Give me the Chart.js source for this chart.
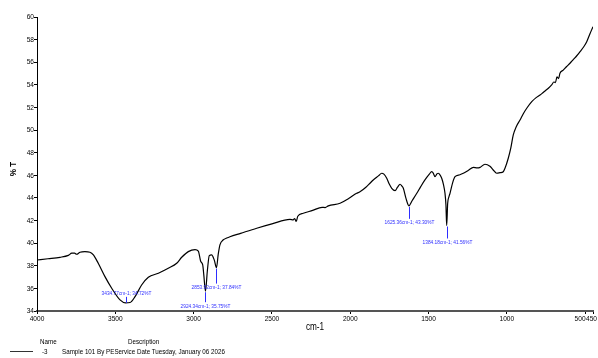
<!DOCTYPE html>
<html>
<head>
<meta charset="utf-8">
<script src="https://cdn.jsdelivr.net/npm/chart.js@4.4.1/dist/chart.umd.min.js"></script>
<style>
  html, body { margin: 0; padding: 0; background: #fff; }
  #wrap { position: relative; width: 598px; height: 358px; overflow: hidden; }
  #c { position: absolute; left: 0; top: 0; }
  .t { position: absolute; font-family: "Liberation Sans", Arial, sans-serif; font-size: 8px; color: #000;
       white-space: nowrap; line-height: 1; transform: scaleX(0.78); transform-origin: 0 0; }
  .swatch { position: absolute; left: 10px; top: 351px; width: 23px; height: 0; border-top: 1.5px solid #333; }
</style>
</head>
<body>
<div id="wrap">
  <canvas id="c" width="598" height="358"></canvas>
  <div class="t" style="left:40px; top:338px;">Name</div>
  <div class="t" style="left:128px; top:338px;">Description</div>
  <div class="swatch"></div>
  <div class="t" style="left:42px; top:348px;">-3</div>
  <div class="t" style="left:62px; top:348px;">Sample 101 By PEService Date Tuesday, January 06 2026</div>
</div>
<script>
// FTIR spectrum: wavenumber (cm-1) vs transmittance (%T)
const wavenumbers = [
  4000, 3930, 3853, 3800, 3778, 3760, 3747, 3725, 3694, 3662, 3640, 3609, 3566, 3523, 3470,
  3434.77, 3406, 3374, 3332, 3289, 3225, 3162, 3108, 3076, 3034, 2991, 2970, 2955, 2942, 2935,
  2924.34, 2912, 2900, 2885, 2868, 2853.92, 2843, 2832, 2810, 2789, 2768, 2700, 2597, 2500,
  2385, 2364, 2355, 2345, 2335, 2300, 2240, 2180, 2160, 2140, 2065, 2010, 1959, 1938, 1900,
  1874, 1853, 1820, 1799, 1785, 1767, 1750, 1735, 1714, 1698, 1682, 1670, 1661, 1645, 1625.36,
  1605, 1575, 1550, 1523, 1495, 1480, 1470, 1459, 1445, 1438, 1425, 1416, 1405, 1395, 1389,
  1384.18, 1378, 1370, 1363, 1345, 1331, 1300, 1278, 1245, 1214, 1190, 1171, 1140, 1108, 1087,
  1065, 1044, 1023, 1012, 991, 975, 959, 940, 916, 895, 873, 841, 815, 788, 770, 756, 735, 714,
  700, 690, 680, 670, 661, 640, 620, 597, 575, 555, 533, 510, 490, 470, 450
];
const transmittance = [
  38.51, 38.62, 38.75, 38.92, 39.11, 39.12, 39.02, 39.20, 39.25, 39.20, 38.96, 38.22, 37.04, 36.01, 34.98,
  34.72, 34.75, 35.27, 36.30, 36.98, 37.34, 37.78, 38.22, 38.75, 39.25, 39.42, 39.30, 38.40, 38.07, 37.20,
  35.75, 37.60, 38.90, 38.96, 38.50, 37.84, 39.00, 39.85, 40.30, 40.45, 40.57, 40.87, 41.32, 41.70,
  42.11, 42.06, 42.18, 41.92, 42.38, 42.64, 42.90, 43.17, 43.15, 43.30, 43.53, 43.95, 44.41, 44.55, 44.95,
  45.30, 45.59, 45.95, 46.18, 46.10, 45.74, 45.20, 44.85, 44.64, 44.95, 45.21, 45.05, 44.85, 44.00, 43.30,
  43.75, 44.41, 45.00, 45.59, 46.10, 46.32, 46.20, 45.88, 46.15, 46.18, 46.00, 45.74, 45.20, 44.41, 43.40,
  41.56, 43.50, 44.10, 44.41, 45.40, 45.88, 46.05, 46.18, 46.45, 46.71, 46.65, 46.70, 46.98, 46.80, 46.47,
  46.18, 46.23, 46.32, 46.62, 47.51, 48.40, 49.57, 50.30, 50.89, 51.45, 51.93, 52.51, 52.85, 53.10, 53.30, 53.46, 53.70, 53.99,
  54.25, 54.20, 54.70, 54.55, 55.02, 55.30, 55.60, 55.91, 56.25, 56.55, 56.93, 57.35, 57.82, 58.50, 59.14
];

// Labelled absorption bands
const peakWavenumbers = [3434.77, 2924.34, 2853.92, 1625.36, 1384.18];
const peakTransmittance = [34.72, 35.75, 37.84, 43.30, 41.56];

// Axis ticks
const xTickValues = [4000, 3500, 3000, 2500, 2000, 1500, 1000, 500, 450];
const yTickValues = [34, 36, 38, 40, 42, 44, 46, 48, 50, 52, 54, 56, 58, 60];

const FONT = '"Liberation Sans", Arial, sans-serif';
const PEAK_BLUE = 'rgb(45, 45, 255)';

// marker placement for each band label: direction and marker length (px)
const peakLayout = [
  { dir: 'up', len: 6 },
  { dir: 'down', len: 10 },
  { dir: 'down', len: 15 },
  { dir: 'down', len: 12 },
  { dir: 'down', len: 12 }
];

// horizontally condensed text
function narrowText(ctx, text, x, y, align, sx) {
  ctx.save();
  ctx.translate(x, y);
  ctx.scale(sx, 1);
  ctx.textAlign = align;
  ctx.fillText(text, 0, 0);
  ctx.restore();
}

const peakLabels = {
  id: 'peakLabels',
  afterDatasetsDraw(chart) {
    const { ctx, scales } = chart;
    ctx.save();
    ctx.strokeStyle = PEAK_BLUE;
    ctx.fillStyle = PEAK_BLUE;
    ctx.lineWidth = 1;
    ctx.font = '6px ' + FONT;
    peakWavenumbers.forEach((w, i) => {
      const t = peakTransmittance[i];
      const px = Math.round(scales.x.getPixelForValue(w)) + 0.5;
      const py = scales.y.getPixelForValue(t);
      const lay = peakLayout[i];
      const text = w.toFixed(2) + 'cm-1; ' + t.toFixed(2) + '%T';
      ctx.beginPath();
      if (lay.dir === 'down') {
        ctx.moveTo(px, py + 1);
        ctx.lineTo(px, py + 1 + lay.len);
        ctx.stroke();
        ctx.textBaseline = 'top';
        narrowText(ctx, text, px, py + 2 + lay.len, 'center', 0.8);
      } else {
        ctx.moveTo(px, py);
        ctx.lineTo(px, py - lay.len);
        ctx.stroke();
        ctx.textBaseline = 'bottom';
        narrowText(ctx, text, px, py - lay.len - 1, 'center', 0.8);
      }
    });
    ctx.restore();
  }
};

// tick labels and axis titles in a condensed face
const axisText = {
  id: 'axisText',
  afterDraw(chart) {
    const { ctx, scales, chartArea } = chart;
    const xs = scales.x, ys = scales.y;
    const SX = 0.82;
    ctx.save();
    ctx.fillStyle = '#000';
    ctx.font = '8px ' + FONT;

    // x tick labels, kept inside the canvas and clear of each other
    ctx.textBaseline = 'top';
    const items = xTickValues.map(v => {
      const text = String(v);
      const w = ctx.measureText(text).width * SX;
      const c = xs.getPixelForValue(v);
      return { text, w, left: c - w / 2 };
    });
    for (let i = items.length - 1; i >= 0; i--) {
      const it = items[i];
      const limit = i === items.length - 1 ? chart.width - 1 : items[i + 1].left - 0.5;
      if (it.left + it.w > limit) it.left = limit - it.w;
    }
    items.forEach(it => narrowText(ctx, it.text, it.left, chartArea.bottom + 4, 'left', SX));

    // y tick labels
    ctx.textBaseline = 'middle';
    yTickValues.forEach(v => {
      narrowText(ctx, String(v), chartArea.left - 3, ys.getPixelForValue(v), 'right', SX);
    });

    // axis titles
    ctx.font = '10px ' + FONT;
    narrowText(ctx, 'cm-1', (chartArea.left + chartArea.right) / 2, chartArea.bottom + 16, 'center', SX);
    ctx.font = 'bold 9px ' + FONT;
    ctx.save();
    ctx.translate(13.5, (chartArea.top + chartArea.bottom) / 2 + 5);
    ctx.rotate(-Math.PI / 2);
    narrowText(ctx, '% T', 0, 0, 'center', 0.9);
    ctx.restore();
    ctx.restore();
  }
};

new Chart(document.getElementById('c'), {
  type: 'line',
  data: {
    datasets: [{
      data: wavenumbers.map((w, i) => ({ x: w, y: transmittance[i] })),
      borderColor: '#000',
      borderWidth: 1.2,
      pointRadius: 0,
      cubicInterpolationMode: 'monotone',
      fill: false
    }]
  },
  options: {
    responsive: false,
    animation: false,
    devicePixelRatio: 1,
    layout: { padding: { left: 0, top: 17, right: 5, bottom: 21 } },
    plugins: { legend: { display: false }, tooltip: { enabled: false } },
    scales: {
      x: {
        type: 'linear',
        reverse: true,
        min: 450,
        max: 4000,
        afterBuildTicks: s => { s.ticks = xTickValues.map(v => ({ value: v })); },
        afterFit: s => { s.height = 26; s.paddingLeft = 0; s.paddingRight = 0; },
        ticks: { display: false, autoSkip: false },
        grid: { display: true, drawOnChartArea: false, drawTicks: true, tickLength: 3, color: '#000' },
        border: { display: true, color: '#555', width: 2 },
        title: { display: false }
      },
      y: {
        min: 34,
        max: 60,
        afterBuildTicks: s => { s.ticks = yTickValues.map(v => ({ value: v })); },
        afterFit: s => { s.width = 37; },
        ticks: { display: false },
        grid: { display: true, drawOnChartArea: false, drawTicks: true, tickLength: 3, color: '#000' },
        border: { display: true, color: '#000', width: 1 },
        title: { display: false }
      }
    }
  },
  plugins: [peakLabels, axisText]
});
</script>
</body>
</html>
